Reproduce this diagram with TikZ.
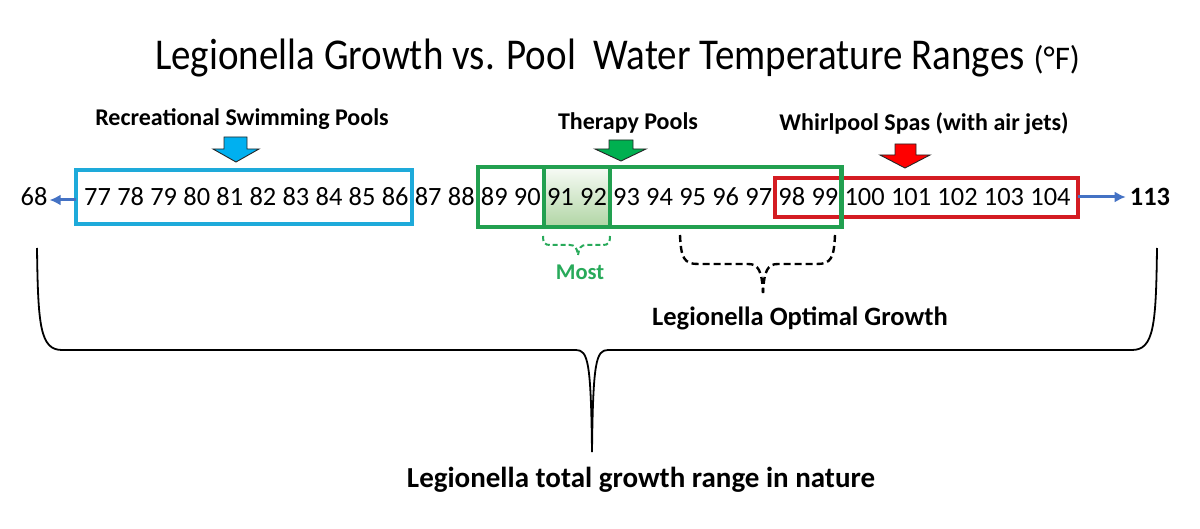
\documentclass[tikz,border=0pt]{standalone}
\usepackage{fontspec}
\setmainfont{Carlito}
\usetikzlibrary{calc,arrows.meta}
\pgfdeclarelayer{background}
\pgfsetlayers{background,main}
\definecolor{cblue}{RGB}{30,170,218}
\definecolor{cgreen}{RGB}{34,160,80}
\definecolor{cred}{RGB}{212,28,34}
\definecolor{carrow}{RGB}{68,114,196}
\definecolor{ablue}{RGB}{0,176,240}
\definecolor{agreen}{RGB}{0,176,80}
\definecolor{ared}{RGB}{255,0,0}
\definecolor{mostgreen}{RGB}{40,170,90}
\definecolor{shtop}{RGB}{248,251,246}
\definecolor{shbot}{RGB}{176,213,164}
\begin{document}
\begin{tikzpicture}[x=1pt,y=-1pt,
  num/.style={inner sep=0pt, font=\fontsize{26.4}{30}\selectfont},
  lbl/.style={inner sep=0pt, anchor=base, font=\fontsize{24}{27}\selectfont\bfseries},
  rangebox/.style={line width=4.2pt},
  conn/.style={draw=carrow, line width=3pt, -{Latex[length=11pt,width=11pt]}},
  blockarrow/.style={draw=black!85, line width=0.9pt, line join=miter},
  bigbrace/.style={line width=1.8pt, line join=round},
  dbrace/.style={line width=2.4pt, dash pattern=on 7pt off 4pt}]
\useasboundingbox (0,0) rectangle (1200,529);

% title
\node[inner sep=0pt, anchor=base west] (title) at (155,70)
  {\scalebox{0.886}[1]{\fontsize{44}{50}\selectfont Legionella Growth vs. Pool\ \ Water Temperature Ranges}\hspace{9pt}{\fontsize{33}{38}\selectfont (°F)}};

% helper y levels
\coordinate (yBt) at (0,170); \coordinate (yBb) at (0,224);
\coordinate (yGt) at (0,167); \coordinate (yGb) at (0,227);
\coordinate (yRt) at (0,178); \coordinate (yRb) at (0,217);
\coordinate (yAr) at (0,200); \coordinate (yAr2) at (0,197);

% numbers
\node[num, anchor=base west] (n77) at (84,206) {77};
\foreach \i [remember=\i as \p (initially 77)] in {78,...,104}
  \node[num, anchor=base west] (n\i) at ([xshift=5.9pt]n\p.base east) {\i};
\node[num, anchor=base] (n68) at (34,206) {68};
\node[num, anchor=base, font=\fontsize{26.4}{30}\selectfont\bfseries] (n113) at (1150,206) {113};

% box edges
\coordinate (bL) at ($(n77.west)+(-8,0)$);
\coordinate (bR) at ($(n86.east)!0.5!(n87.west)$);
\coordinate (gL) at ($(n88.east)!0.5!(n89.west)$);
\coordinate (g1) at ($(n90.east)!0.5!(n91.west)$);
\coordinate (g2) at ($(n92.east)!0.5!(n93.west)$);
\coordinate (gR) at ($(n99.east)!0.5!(n100.west)$);
\coordinate (rL) at ($(n97.east)!0.5!(n98.west)$);
\coordinate (rR) at ($(n104.east)+(7,0)$);

% shading for 91 92 (behind the numbers)
\begin{pgfonlayer}{background}
\shade[top color=shtop, bottom color=shbot] (g1 |- yGt) rectangle (g2 |- yGb);
\end{pgfonlayer}

% boxes
\draw[rangebox, draw=cblue] (bL |- yBt) rectangle (bR |- yBb);
\draw[rangebox, draw=cred] (rL |- yRt) rectangle (rR |- yRb);
\draw[rangebox, draw=cgreen] (gL |- yGt) rectangle (gR |- yGb);
\draw[rangebox, draw=cgreen] (g1 |- yGt) -- (g1 |- yGb);
\draw[rangebox, draw=cgreen] (g2 |- yGt) -- (g2 |- yGb);

% range arrows
\draw[conn] (bL |- yAr) -- ([xshift=2pt]n68.east |- yAr);
\draw[conn] (rR |- yAr2) -- ([xshift=-4pt]n113.west |- yAr2);

% labels
\node[lbl] (lrec) at (242,126) {Recreational Swimming Pools};
\node[lbl] (lther) at (628,130) {Therapy Pools};
\node[lbl] (lwhirl) at (924,131) {Whirlpool Spas (with air jets)};

% block arrows
\draw[blockarrow, fill=ablue] (224,137) -- (247,137) -- (247,149) -- (259,149) -- (236,162) -- (213,149) -- (224,149) -- cycle;
\draw[blockarrow, fill=agreen] (609,140) -- (633,140) -- (633,149) -- (646,149) -- (621,161) -- (595,149) -- (609,149) -- cycle;
\draw[blockarrow, fill=ared] (895,144) -- (916,144) -- (916,155) -- (930,155) -- (905,168) -- (880,155) -- (895,155) -- cycle;

% green dashed brace + Most
\draw[dbrace, draw=mostgreen, line width=2pt, dash pattern=on 5pt off 3pt] (543,236) .. controls (543,243) and (545,245) .. (550,245) -- (570,245) .. controls (575,245) and (577,248) .. (578,255);
\draw[dbrace, draw=mostgreen, line width=2pt, dash pattern=on 5pt off 3pt] (610,236) .. controls (610,243) and (608,245) .. (603,245) -- (586,245) .. controls (581,245) and (579,248) .. (578,255);
\node[lbl, font=\fontsize{22.5}{25}\selectfont\bfseries, text=mostgreen] (most) at (580,280) {Most};

% black dashed brace + optimal growth
\draw[dbrace] (680,235) .. controls (681,258) and (684,264) .. (698,264) -- (748,264) .. controls (758,264) and (762,270) .. (763,293);
\draw[dbrace] (835,235) .. controls (834,258) and (831,264) .. (817,264) -- (778,264) .. controls (768,264) and (764,270) .. (763,293);
\node[lbl, font=\fontsize{26.5}{29}\selectfont\bfseries] (lopt) at (800,326) {Legionella Optimal Growth};

% big brace + total range
\draw[bigbrace] (37,248) .. controls (38,325) and (40,350) .. (62,350) -- (576,350) .. controls (588,350) and (591,362) .. (592,452);
\draw[bigbrace] (1157,248) .. controls (1156,325) and (1154,350) .. (1132,350) -- (608,350) .. controls (596,350) and (593,362) .. (592,452);
\node[lbl, font=\fontsize{29}{32}\selectfont\bfseries] (ltot) at (641,487) {Legionella total growth range in nature};
\end{tikzpicture}
\end{document}
